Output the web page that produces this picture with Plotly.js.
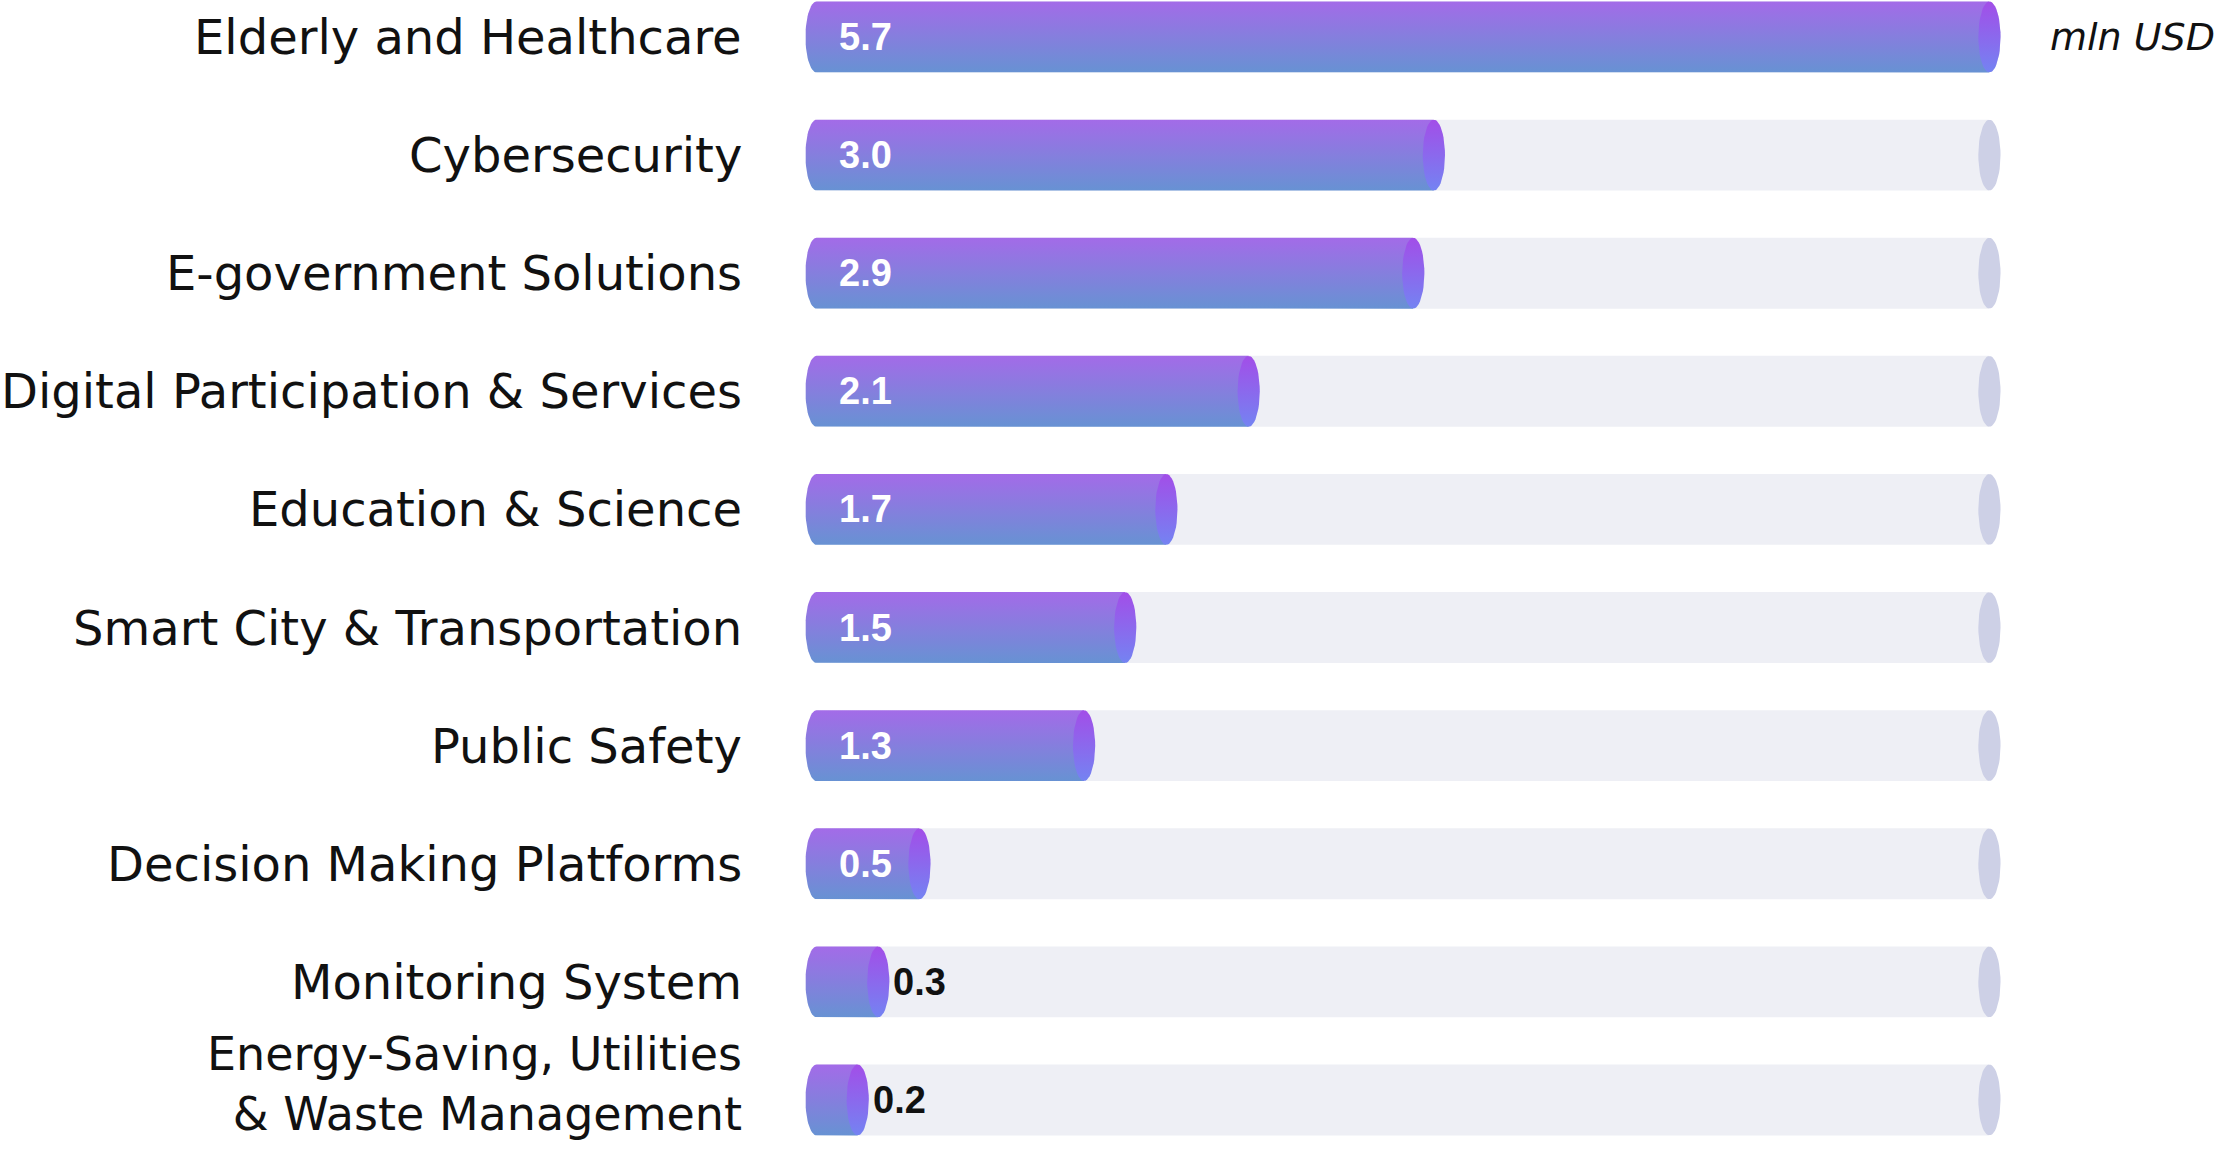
<!DOCTYPE html>
<html>
<head>
<meta charset="utf-8">
<script src="https://cdn.plot.ly/plotly-3.0.1.min.js"></script>
<style>
  html, body { margin: 0; padding: 0; background: #ffffff; }
  #chart { width: 2219px; height: 1149px; }
</style>
</head>
<body>
<div id="chart"></div>
<script>
// ---- data ----
const categories = [
  'Elderly and Healthcare',
  'Cybersecurity',
  'E-government Solutions',
  'Digital Participation & Services',
  'Education & Science',
  'Smart City & Transportation',
  'Public Safety',
  'Decision Making Platforms',
  'Monitoring System',
  'Energy-Saving, Utilities<br>& Waste Management'
];
const values = [5.7, 3.0, 2.9, 2.1, 1.7, 1.5, 1.3, 0.5, 0.3, 0.2];
const unitLabel = 'mln USD';

// ---- styling ----
const trackMax = Math.max(...values);
const BAR_HALF = 0.3;        // half bar thickness (category units)
const CAP_RX = 0.054;        // cap ellipse x-radius (value units)
const barScale = [[0, '#6792D3'], [1, '#A36BE8']];
const capScale = [[0, '#7483F2'], [1, '#A24EE8']];
const trackColor = '#EEEFF5';
const trackCapColor = '#CDD0E6';
const idx = categories.map((_, i) => i);

function arc(cx, cy, rx, ry, a0, a1, n) {
  const xs = [], ys = [];
  for (let k = 0; k <= n; k++) {
    const t = (a0 + (a1 - a0) * k / n) * Math.PI / 180;
    xs.push(cx + rx * Math.cos(t));
    ys.push(cy + ry * Math.sin(t));
  }
  return [xs, ys];
}

const traces = [];

// track rectangles (one trace, gaps separate shapes)
{
  const x = [], y = [];
  idx.forEach(i => {
    x.push(0, trackMax, trackMax, 0, 0, null);
    y.push(i - BAR_HALF, i - BAR_HALF, i + BAR_HALF, i + BAR_HALF, i - BAR_HALF, null);
  });
  traces.push({type: 'scatter', mode: 'lines', x, y, fill: 'toself', fillcolor: trackColor,
    line: {width: 0}, hoverinfo: 'skip', showlegend: false});
}
// track caps
{
  const x = [], y = [];
  idx.forEach(i => {
    const [ex, ey] = arc(trackMax, i, CAP_RX, BAR_HALF, 0, 360, 48);
    x.push(...ex, null); y.push(...ey, null);
  });
  traces.push({type: 'scatter', mode: 'lines', x, y, fill: 'toself', fillcolor: trackCapColor,
    line: {width: 0}, hoverinfo: 'skip', showlegend: false});
}
// value bars with rounded left end and lit end cap
values.forEach((v, i) => {
  const [lx, ly] = arc(0, i, CAP_RX, BAR_HALF, 90, 270, 30);
  const x = [0, v, v, 0, ...lx];
  const y = [i - BAR_HALF, i - BAR_HALF, i + BAR_HALF, i + BAR_HALF, ...ly];
  traces.push({type: 'scatter', mode: 'lines', x, y, fill: 'toself',
    fillgradient: {type: 'vertical', colorscale: barScale},
    line: {width: 0}, hoverinfo: 'skip', showlegend: false});
  const [cx, cy] = arc(v, i, CAP_RX, BAR_HALF, 0, 360, 48);
  traces.push({type: 'scatter', mode: 'lines', x: cx, y: cy, fill: 'toself',
    fillgradient: {type: 'vertical', colorscale: capScale},
    line: {width: 0}, hoverinfo: 'skip', showlegend: false});
});

// value labels
const annotations = values.map((v, i) => {
  const inside = v >= 0.5;
  return {
    x: inside ? 0 : v, y: i, xref: 'x', yref: 'y',
    text: v.toFixed(1), showarrow: false,
    xanchor: 'left', yanchor: 'middle',
    xshift: inside ? 20 : 13,
    font: {family: 'Liberation Sans, Arial, sans-serif', size: 38, weight: 700,
           color: inside ? '#ffffff' : '#111111'}
  };
});
// category labels
categories.forEach((c, i) => {
  const multi = c.includes('<br>');
  annotations.push({
    x: 0, y: i, xref: 'paper', yref: 'y', text: c, showarrow: false,
    xanchor: 'right', yanchor: 'middle', align: 'right', xshift: -52,
    yshift: multi ? 16 : 0,
    font: {family: 'DejaVu Sans, sans-serif', size: multi ? 46 : 48, color: '#111111'}
  });
});
annotations.push({
  x: 1, y: 0, xref: 'paper', yref: 'y', text: unitLabel, showarrow: false,
  xanchor: 'left', yanchor: 'middle', xshift: 38,
  font: {family: 'DejaVu Sans, sans-serif', size: 38, style: 'italic', color: '#111111'}
});

const layout = {
  width: 2219, height: 1149,
  margin: {l: 796, r: 209, t: 0, b: 0, pad: 0},
  paper_bgcolor: '#ffffff', plot_bgcolor: '#ffffff',
  showlegend: false,
  xaxis: {range: [-0.1, trackMax + 0.1], visible: false, fixedrange: true},
  yaxis: {
    range: [categories.length - 1 + 0.415, -0.313],
    tickmode: 'array', tickvals: idx, ticktext: categories,
    showticklabels: false,
    showgrid: false, zeroline: false, showline: false, ticks: '',
    fixedrange: true
  },
  annotations
};

Plotly.newPlot('chart', traces, layout, {staticPlot: true, displayModeBar: false});
</script>
</body>
</html>
